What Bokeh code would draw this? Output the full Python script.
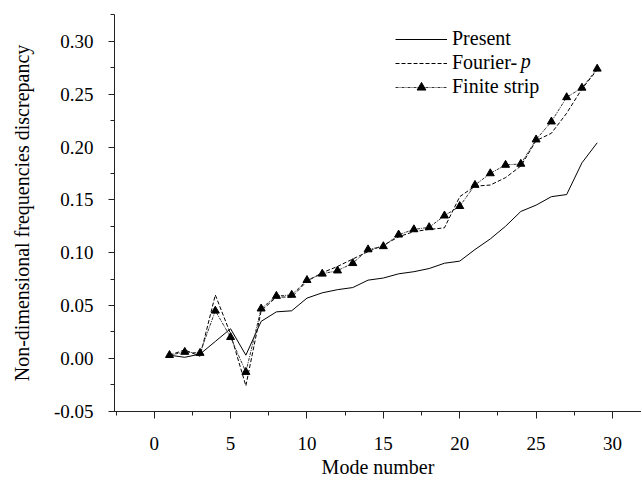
from bokeh.plotting import figure
from bokeh.models import (SingleIntervalTicker, NumeralTickFormatter, Legend,
                          LegendItem, Label, Range1d, ColumnDataSource)
from bokeh.embed import file_html
from bokeh.resources import INLINE

# ---- data ----
modes = list(range(1, 30))
present = [0.003, 0.001, 0.004, 0.016, 0.028, 0.003, 0.035, 0.044, 0.045, 0.057,
           0.062, 0.065, 0.067, 0.074, 0.076, 0.080, 0.082, 0.085, 0.090, 0.092,
           0.103, 0.113, 0.125, 0.139, 0.145, 0.153, 0.155, 0.185, 0.204]
fourier_p = [0.003, 0.008, 0.002, 0.060, 0.023, -0.026, 0.045, 0.058, 0.058, 0.073,
             0.081, 0.087, 0.094, 0.101, 0.107, 0.115, 0.120, 0.122, 0.1235, 0.153,
             0.163, 0.164, 0.171, 0.182, 0.206, 0.213, 0.232, 0.255, 0.273]
finite_strip = [0.003, 0.006, 0.005, 0.045, 0.020, -0.013, 0.047, 0.059, 0.060, 0.074,
                0.080, 0.083, 0.090, 0.103, 0.106, 0.117, 0.122, 0.124, 0.135, 0.144,
                0.164, 0.175, 0.183, 0.184, 0.207, 0.224, 0.247, 0.256, 0.274]
series_names = ["Present", "Fourier-", "Finite strip"]
italic_suffix = "p"
x_label = "Mode number"
y_label = "Non-dimensional frequencies discrepancy"

src = ColumnDataSource(dict(mode=modes, present=present, fourier=fourier_p, finite=finite_strip))

FONT = "Liberation Serif"

p = figure(width=641, height=481, output_backend="svg", toolbar_location=None,
           x_range=Range1d(-2.6, 31.9), y_range=Range1d(-0.0503, 0.3254),
           min_border_left=114, min_border_right=0, min_border_top=14, min_border_bottom=70)
p.outline_line_color = None
p.grid.visible = False

r_present = p.line("mode", "present", source=src, line_color="black", line_width=1)
r_fourier = p.line("mode", "fourier", source=src, line_color="black", line_width=1,
                   line_dash="4 2")
r_finite = p.line("mode", "finite", source=src, line_color="#333333", line_width=1,
                  line_dash="3 1 1 1")
r_tri = p.scatter("mode", "finite", source=src, marker="triangle", size=8,
                  fill_color="black", line_color="black")

# axes
p.xaxis.ticker = SingleIntervalTicker(interval=5, num_minor_ticks=2)
p.yaxis.ticker = SingleIntervalTicker(interval=0.05, num_minor_ticks=2)
p.yaxis.formatter = NumeralTickFormatter(format="0.00")
for ax in (p.xaxis[0], p.yaxis[0]):
    ax.axis_line_color = "#222222"
    ax.major_tick_line_color = "#222222"
    ax.minor_tick_line_color = "#222222"
    ax.major_tick_in = 0
    ax.minor_tick_in = 0
    ax.major_tick_out = 7
    ax.minor_tick_out = 4
    ax.major_label_text_font = FONT
    ax.major_label_text_font_size = "19px"
    ax.major_label_text_color = "black"
    ax.axis_label_text_font = FONT
    ax.axis_label_text_font_size = "20px"
    ax.axis_label_text_font_style = "normal"
    ax.axis_label_text_color = "black"
p.xaxis.axis_label = x_label
p.yaxis.axis_label = y_label
p.xaxis.major_label_standoff = 18
p.xaxis.axis_label_standoff = 3
p.yaxis.major_tick_out = 6
p.yaxis.major_label_standoff = 15
p.yaxis.axis_label_standoff = 18

legend = Legend(items=[
    LegendItem(label=series_names[0], renderers=[r_present]),
    LegendItem(label=series_names[1], renderers=[r_fourier]),
    LegendItem(label=series_names[2], renderers=[r_finite, r_tri]),
], location=(281, 313))
legend.border_line_color = None
legend.background_fill_alpha = 0
legend.padding = 0
legend.margin = 0
legend.spacing = 1
legend.glyph_width = 52
legend.glyph_height = 22
legend.label_height = 22
legend.label_standoff = 5
legend.label_text_font = FONT
legend.label_text_font_size = "20px"
legend.label_text_color = "black"
p.add_layout(legend)

p.add_layout(Label(x=24.0, y=0.2816, text=italic_suffix, text_font=FONT,
                   text_font_size="20px", text_font_style="italic",
                   text_baseline="middle", text_align="left", text_color="black"))

open("out.html", "w").write(file_html(p, INLINE))
